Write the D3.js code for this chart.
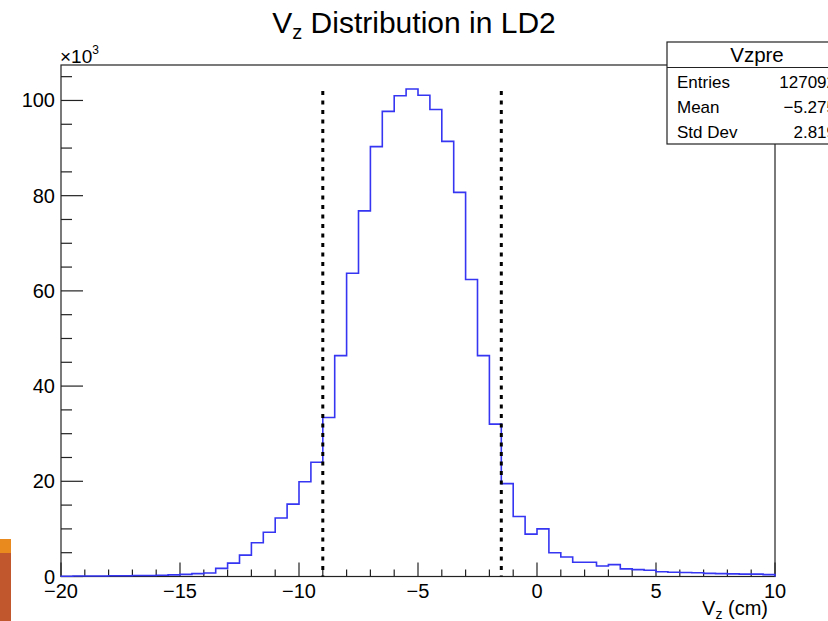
<!DOCTYPE html>
<html>
<head>
<meta charset="utf-8">
<script src="https://cdn.jsdelivr.net/npm/d3@7"></script>
<style>
  body { margin: 0; background: #fff; }
  svg { display: block; font-family: "Liberation Sans", Arial, Helvetica, sans-serif; }
</style>
</head>
<body>
<svg id="chart" width="828" height="621"></svg>
<script>
// histogram Vzpre : lower bin edges (cm) and counts (x10^3)
const binLow = [
  -20, -19.5, -19, -18.5, -18, -17.5, -17, -16.5, -16, -15.5,
  -15, -14.5, -14, -13.5, -13, -12.5, -12, -11.5, -11, -10.5,
  -10, -9.5, -9, -8.5, -8, -7.5, -7, -6.5, -6, -5.5,
  -5, -4.5, -4, -3.5, -3, -2.5, -2, -1.5, -1, -0.5,
  0, 0.5, 1, 1.5, 2, 2.5, 3, 3.5, 4, 4.5,
  5, 5.5, 6, 6.5, 7, 7.5, 8, 8.5, 9, 9.5
];
const binWidth = 0.5;
const counts = [
  0.05, 0.1, 0.1, 0.1, 0.15, 0.15, 0.2, 0.2, 0.25, 0.35,
  0.45, 0.6, 0.75, 1.7, 2.8, 4.5, 7.1, 9.3, 12.3, 15.2,
  19.9, 24.0, 33.4, 46.4, 63.7, 76.8, 90.3, 97.7, 101.0, 102.4,
  101.1, 98.1, 91.4, 80.7, 62.4, 46.4, 32.0, 19.5, 12.6, 8.9,
  10.0, 5.0, 4.1, 3.0, 3.0, 2.2, 2.5, 1.6, 1.45, 1.3,
  1.0, 0.9, 0.85, 0.8, 0.65, 0.6, 0.55, 0.5, 0.5, 0.4
];
const cutLines = [-9, -1.5];
const cutTop = 102;
const xTicks = [-20, -15, -10, -5, 0, 5, 10];
const yTicks = [0, 20, 40, 60, 80, 100];
const statLabels = ['Entries', 'Mean', 'Std Dev'];
const statValues = ['127092', '\u22125.275', '2.819'];

const svg = d3.select('#chart');
const frame = { left: 61, right: 775, top: 65, bottom: 576.5 };

const x = d3.scaleLinear().domain([-20, 10]).range([frame.left, frame.right]);
const y = d3.scaleLinear().domain([0, 107.45]).range([frame.bottom, frame.top]);

// slide background leftover at bottom-left
svg.append('rect').attr('x', 0).attr('y', 539).attr('width', 11).attr('height', 14).attr('fill', '#e98a1f');
svg.append('rect').attr('x', 0).attr('y', 553).attr('width', 11).attr('height', 68).attr('fill', '#c0572d');

// frame
svg.append('rect')
  .attr('x', frame.left).attr('y', frame.top)
  .attr('width', frame.right - frame.left).attr('height', frame.bottom - frame.top)
  .attr('fill', 'none').attr('stroke', '#222').attr('stroke-width', 1.2);

const fmt = v => (v < 0 ? '\u2212' + Math.abs(v) : '' + v);

// x axis ticks
const xAxis = svg.append('g');
x.ticks(30).forEach(t => {
  const major = xTicks.includes(t);
  xAxis.append('line')
    .attr('x1', x(t)).attr('x2', x(t))
    .attr('y1', frame.bottom).attr('y2', frame.bottom - (major ? 14 : 7))
    .attr('stroke', '#222').attr('stroke-width', 1.2);
});
xTicks.forEach(t => {
  xAxis.append('text')
    .attr('x', x(t)).attr('y', 598)
    .attr('text-anchor', 'middle').attr('font-size', 20)
    .text(fmt(t));
});

// y axis ticks
const yAxis = svg.append('g');
d3.range(0, 106, 5).forEach(t => {
  const major = yTicks.includes(t);
  yAxis.append('line')
    .attr('x1', frame.left).attr('x2', frame.left + (major ? 22 : 11))
    .attr('y1', y(t)).attr('y2', y(t))
    .attr('stroke', '#222').attr('stroke-width', 1.2);
});
yTicks.forEach(t => {
  yAxis.append('text')
    .attr('x', 55).attr('y', y(t) + 7)
    .attr('text-anchor', 'end').attr('font-size', 20)
    .text(t);
});

// x10^3 label
const mult = svg.append('text').attr('x', 60).attr('y', 63).attr('font-size', 19);
mult.append('tspan').text('\u00d710');
mult.append('tspan').attr('font-size', 12).attr('dy', -9).text('3');

// histogram outline
const pts = [[x(binLow[0]), y(0)]];
counts.forEach((c, i) => {
  pts.push([x(binLow[i]), y(c)]);
  pts.push([x(binLow[i] + binWidth), y(c)]);
});
pts.push([x(binLow[binLow.length - 1] + binWidth), y(0)]);
svg.append('path')
  .attr('d', d3.line()(pts))
  .attr('fill', 'none').attr('stroke', '#3535f2').attr('stroke-width', 1.6);

// cut lines
cutLines.forEach(c => {
  svg.append('line')
    .attr('x1', x(c)).attr('x2', x(c))
    .attr('y1', y(cutTop)).attr('y2', y(0))
    .attr('stroke', '#000').attr('stroke-width', 3)
    .attr('stroke-dasharray', '4,5.5');
});

// title
const title = svg.append('text')
  .attr('x', 414).attr('y', 33).attr('text-anchor', 'middle').attr('font-size', 30);
title.append('tspan').text('V');
title.append('tspan').attr('font-size', 20).attr('dy', 6).text('z');
title.append('tspan').attr('dy', -6).text(' Distribution in LD2');

// x axis title
const xt = svg.append('text')
  .attr('x', 768).attr('y', 615).attr('text-anchor', 'end').attr('font-size', 20);
xt.append('tspan').text('V');
xt.append('tspan').attr('font-size', 14).attr('dy', 4).text('z');
xt.append('tspan').attr('dy', -4).text(' (cm)');

// stats box
const box = svg.append('g');
box.append('rect')
  .attr('x', 667).attr('y', 42).attr('width', 180).attr('height', 102)
  .attr('fill', '#fff').attr('stroke', '#222').attr('stroke-width', 1.2);
box.append('line')
  .attr('x1', 667).attr('x2', 847).attr('y1', 67.5).attr('y2', 67.5)
  .attr('stroke', '#222').attr('stroke-width', 1.2);
box.append('text')
  .attr('x', 757).attr('y', 62).attr('text-anchor', 'middle').attr('font-size', 20.5)
  .text('Vzpre');
statLabels.forEach((s, i) => {
  box.append('text')
    .attr('x', 677).attr('y', 87.5 + i * 25).attr('font-size', 17).text(s);
  box.append('text')
    .attr('x', 836).attr('y', 87.5 + i * 25).attr('text-anchor', 'end').attr('font-size', 17)
    .text(statValues[i]);
});
</script>
</body>
</html>
